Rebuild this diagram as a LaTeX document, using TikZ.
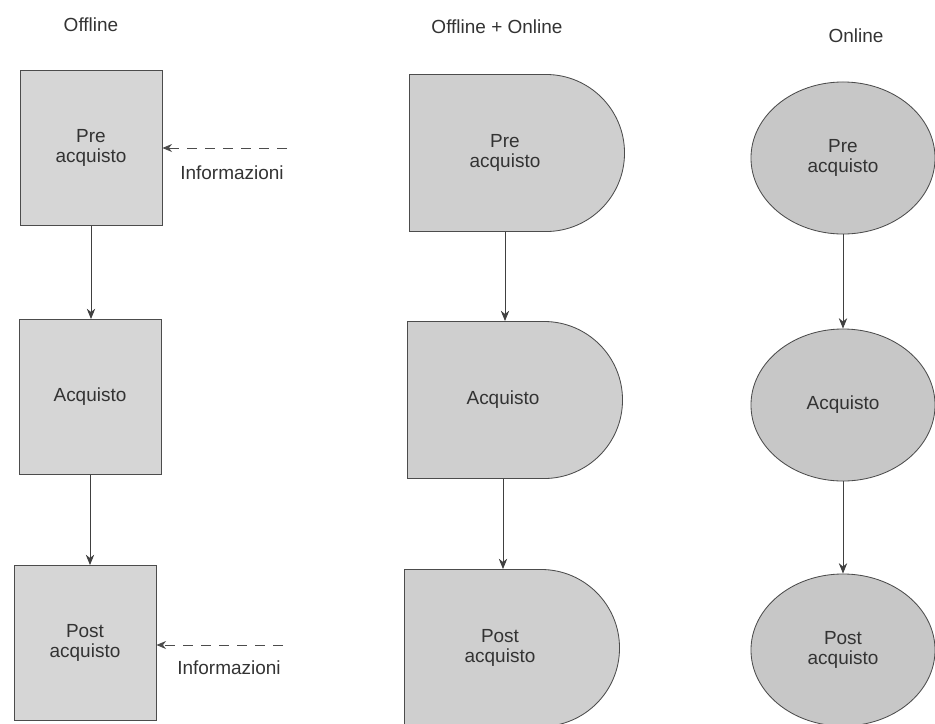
\documentclass[tikz,border=0pt]{standalone}
\usepackage{fontspec}
\setmainfont{Liberation Sans}
\usetikzlibrary{shapes.geometric,shapes.misc,arrows.meta}

\begin{document}
\begin{tikzpicture}[x=0.025cm, y=-0.025cm,
    every node/.style={font=\fontsize{13.5}{14.5}\selectfont, text=black!80},
    box/.style={draw=black!70, line width=0.6pt, fill=black!16, align=center,
      minimum width=3.55cm, minimum height=3.875cm, inner sep=0pt},
    dbox/.style={rounded rectangle, rounded rectangle left arc=none, draw=black!70,
      line width=0.6pt, fill=black!19, align=center,
      minimum width=5.375cm, minimum height=3.925cm, inner sep=0pt},
    oval/.style={ellipse, draw=black!70, line width=0.6pt, fill=black!22, align=center,
      minimum width=4.6cm, minimum height=3.8cm, inner sep=0pt},
    flow/.style={black!75, line width=0.6pt, -{Stealth[length=2.6mm, width=2.1mm]}},
    info/.style={black!70, line width=0.6pt, dash pattern=on 0.25cm off 0.2cm,
      -{Stealth[length=2.4mm, width=2mm]}}]
    \useasboundingbox (0, 0) rectangle (935, 724);
    % column titles
    \node (toff) at (91, 25) {Offline};
    \node (tmix) at (497, 27) {Offline + Online};
    \node (ton) at (856, 36) {Online};
    % the three phases
    \foreach \i/\xa/\ya/\xb/\yb/\yc/\t in {1/91/148/517/153/158/{Pre\\acquisto},
        2/90/397/515/400/405/Acquisto, 3/85/643/512/648/650/{Post\\acquisto}} {
      \node[box] (off\i) at (\xa, \ya) {\t};
      \node[dbox, label={[name=mixt\i, align=center, xshift=-0.3cm]center:\t}] (mix\i) at (\xb, \yb) {};
      \node[oval] (on\i) at (843, \yc) {\t};
    }
    \foreach \i/\j in {1/2, 2/3} {
      \draw[flow] (off\i.south) -- (off\i.south |- off\j.north);
      \draw[flow] ([xshift=-0.3cm]mix\i.south) -- ([xshift=-0.3cm]mix\i.south |- mix\j.north);
      \draw[flow] (on\i.south) -- (on\i.south |- on\j.north);
    }
    % incoming information
    \coordinate (src1) at (287, 148);
    \coordinate (src2) at (283, 645);
    \draw[info] (src1) -- (off1.east |- src1);
    \draw[info] (src2) -- (off3.east |- src2);
    \node (inf1) at (232, 173) {Informazioni};
    \node (inf2) at (229, 668) {Informazioni};
  \end{tikzpicture}
\end{document}
